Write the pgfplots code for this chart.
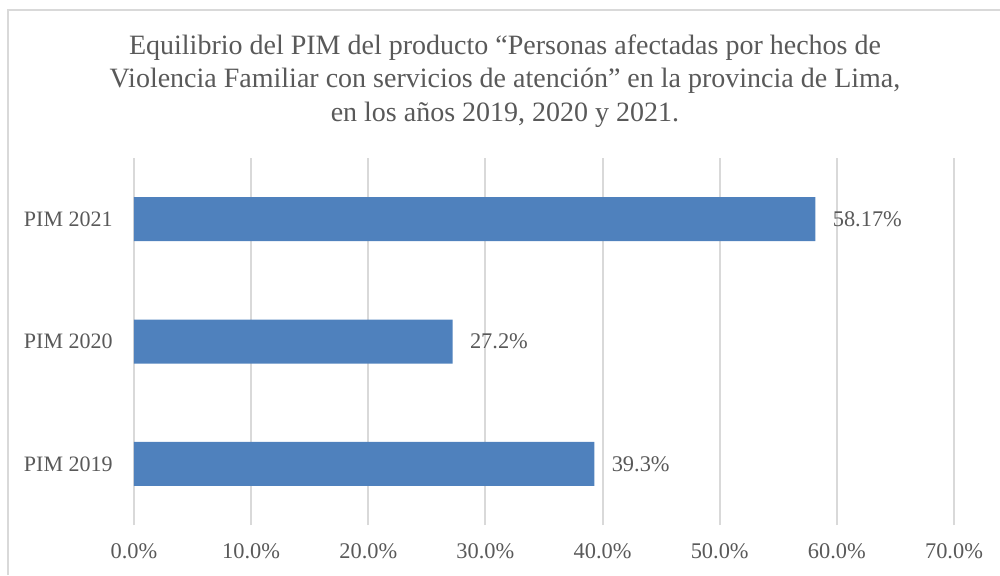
\documentclass[border=0pt]{standalone}
\usepackage{fontspec}
\setmainfont{Liberation Serif}
\usepackage{pgfplots}
\pgfplotsset{compat=1.18}
\usepackage{pgfplotstable}
\definecolor{barblue}{HTML}{4F81BD}
\definecolor{txt}{HTML}{595959}
\definecolor{gridc}{HTML}{D9D9D9}
\pgfplotstableread{
y x label
0 39.3 39.3\%
1 27.2 27.2\%
2 58.17 58.17\%
}\datatable
\begin{document}
\begin{tikzpicture}
\path[use as bounding box] (-67pt,-25pt) rectangle (433pt,262.5pt);
\draw[gridc, line width=0.9pt] (-63pt,-25pt) -- (-63pt,257.5pt) -- (433pt,257.5pt);
\begin{axis}[
  at={(0pt,0pt)}, anchor=south west,
  scale only axis, width=410pt, height=183.5pt,
  xmin=0, xmax=70, ymin=-0.5, ymax=2.5,
  xtick={0,10,20,30,40,50,60,70},
  xticklabels={0.0\%,10.0\%,20.0\%,30.0\%,40.0\%,50.0\%,60.0\%,70.0\%},
  ytick={0,1,2},
  yticklabels={PIM 2019,PIM 2020,PIM 2021},
  xmajorgrids, grid style={gridc, line width=1pt},
  axis line style={draw=none},
  major tick length=0pt, tick style={draw=none},
  xticklabel style={anchor=center, inner sep=0pt, yshift=-13pt, text=txt, font=\fontsize{11.2}{13}\selectfont},
  yticklabel style={anchor=east, inner sep=0pt, xshift=-10.5pt, text=txt, font=\fontsize{11}{13}\selectfont},
]
\addplot[xbar, fill=barblue, draw=none, bar width=22pt,
  nodes near coords, point meta=explicit symbolic,
  every node near coord/.style={anchor=west, inner sep=0pt, xshift=8.5pt, text=txt, font=\fontsize{11.2}{13}\selectfont}]
  table[x=x, y=y, meta=label] {\datatable};
\end{axis}
\node[align=center, text=txt, font=\fontsize{14}{16.7}\selectfont] at (185.5pt,222pt)
  {Equilibrio del PIM del producto “Personas afectadas por hechos de\\
   Violencia Familiar con servicios de atención” en la provincia de Lima,\\
   en los años 2019, 2020 y 2021.};
\end{tikzpicture}
\end{document}
